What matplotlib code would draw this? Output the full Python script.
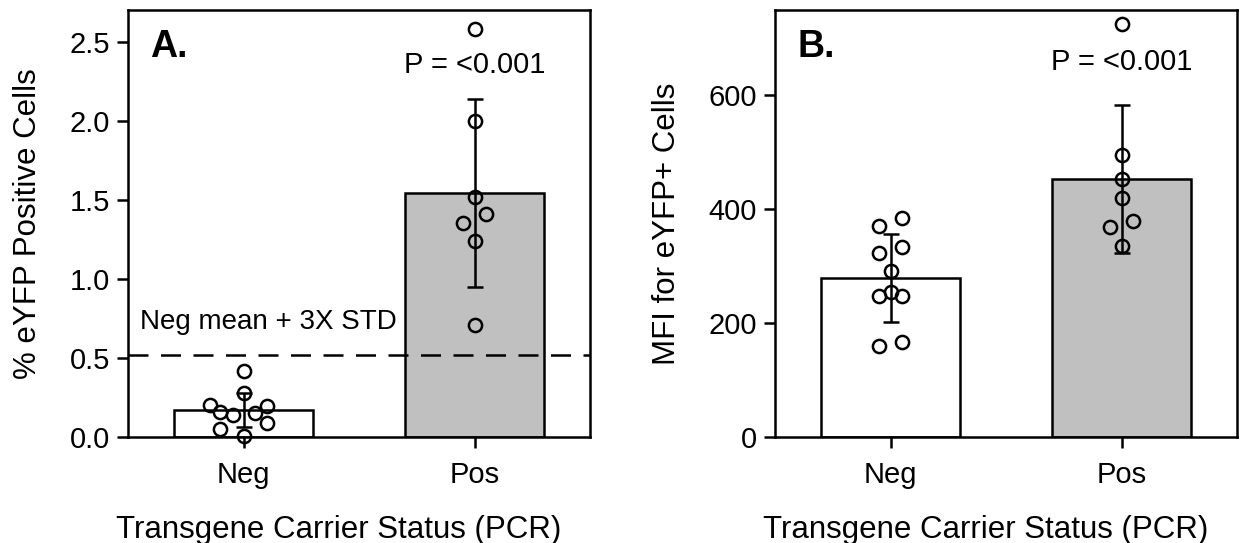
import numpy as np
import matplotlib
matplotlib.use("Agg")
import matplotlib.pyplot as plt

plt.rcParams['font.family'] = ['Liberation Sans', 'DejaVu Sans']

# datos
grupos = ["Neg", "Pos"]

# panel A: % eYFP positive cells
pct_media = [0.171, 1.544]
pct_sd = [0.11, 0.595]
pct_neg = [0.418, 0.278, 0.203, 0.16, 0.139, 0.15, 0.196, 0.089, 0.05, 0.005]
pct_neg_dx = [0.0, 0.0, -0.147, -0.10, -0.047, 0.05, 0.10, 0.10, -0.10, 0.0]
pct_pos = [2.58, 2.0, 1.52, 1.41, 1.35, 1.24, 0.71]
pct_pos_dx = [0.0, 0.0, 0.0, 0.05, -0.05, 0.0, 0.0]
umbral = 0.519

# panel B: MFI
mfi_media = [279, 454]
mfi_sd = [77, 130]
mfi_neg = [370, 384, 323, 334, 292, 255, 247, 247, 160, 167]
mfi_neg_dx = [-0.05, 0.05, -0.05, 0.05, 0.0, 0.0, -0.05, 0.05, -0.05, 0.05]
mfi_pos = [726, 496, 454, 420, 379, 368, 335]
mfi_pos_dx = [0.0, 0.0, 0.0, 0.0, 0.05, -0.05, 0.0]

colores = ["white", "#c0c0c0"]
lw = 1.8

fig = plt.figure(figsize=(12.6, 5.43), dpi=100)
axA = fig.add_axes([0.1016, 0.1952, 0.3667, 0.7864])
axB = fig.add_axes([0.6151, 0.1952, 0.3667, 0.7864])


def panel(ax, media, sd, neg, neg_dx, pos, pos_dx, ylim, yticks, ylabel, letra, p_y):
    x = np.arange(len(grupos))
    ax.bar(x, media, width=0.6, color=colores, edgecolor="black", linewidth=lw, zorder=2)
    ax.errorbar(x, media, yerr=sd, fmt="none", ecolor="black", elinewidth=lw,
                capsize=6, capthick=lw, zorder=3)
    for xi, vals, dx in [(0, neg, neg_dx), (1, pos, pos_dx)]:
        ax.plot(xi + np.array(dx), vals, "o", ms=9.5, mfc="none", mec="black",
                mew=lw, zorder=4, clip_on=False)
    ax.set_xlim(-0.5, 1.5)
    ax.set_ylim(*ylim)
    ax.set_yticks(yticks)
    ax.set_xticks(x)
    ax.set_xticklabels(grupos)
    ax.tick_params(axis="both", direction="out", length=8, width=lw,
                   labelsize=21, pad=5)
    ax.tick_params(axis="x", pad=9)
    for s in ax.spines.values():
        s.set_linewidth(lw)
    ax.set_ylabel(ylabel, fontsize=22.5, labelpad=19)
    ax.set_xlabel("Transgene Carrier Status (PCR)", fontsize=22.5, labelpad=19)
    # la etiqueta del eje x esta algo corrida a la izquierda en el original
    ax.xaxis.label.set_x(0.455)
    ax.text(0.048, 0.913, letra, transform=ax.transAxes, fontsize=27,
            fontweight="bold", va="center", ha="left")
    ax.text(1, p_y, "P = <0.001", fontsize=21, ha="center", va="center")


panel(axA, pct_media, pct_sd, pct_neg, pct_neg_dx, pct_pos, pct_pos_dx,
      (0, 2.7), [0.0, 0.5, 1.0, 1.5, 2.0, 2.5], "% eYFP Positive Cells", "A.", 2.35)
axA.set_yticklabels(["0.0", "0.5", "1.0", "1.5", "2.0", "2.5"])
axA.axhline(umbral, color="black", lw=lw, ls=(0, (8, 5)), zorder=5)
axA.text(-0.45, 0.73, "Neg mean + 3X STD", fontsize=20, ha="left", va="center")

panel(axB, mfi_media, mfi_sd, mfi_neg, mfi_neg_dx, mfi_pos, mfi_pos_dx,
      (0, 750), [0, 200, 400, 600], "MFI for eYFP+ Cells", "B.", 658)

fig.savefig("out.png", dpi=100)
